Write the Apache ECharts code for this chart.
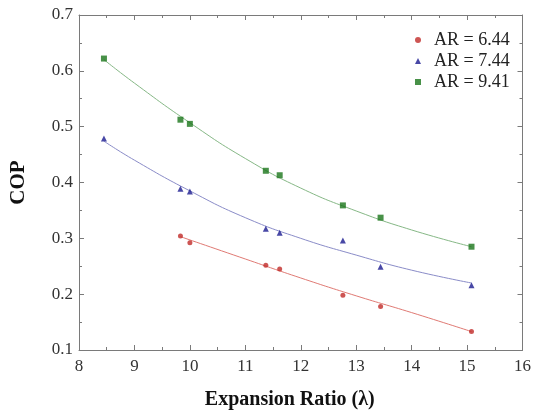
<!DOCTYPE html>
<html>
<head>
<meta charset="utf-8">
<script src="https://cdn.jsdelivr.net/npm/echarts@6/dist/echarts.min.js"></script>
<style>
html,body{margin:0;padding:0;background:#fff;}
#c{width:534px;height:415px;}
</style>
</head>
<body>
<div id="c"></div>
<script>
// Measured points
const seriesNames = ['AR = 6.44', 'AR = 7.44', 'AR = 9.41'];
const xRed = [9.83, 10.0, 11.37, 11.62, 12.76, 13.44, 15.08];
const copRed = [0.304, 0.292, 0.252, 0.245, 0.198, 0.178, 0.133];
const xBlue = [8.45, 9.83, 10.0, 11.37, 11.62, 12.76, 13.44, 15.08];
const copBlue = [0.479, 0.389, 0.384, 0.317, 0.310, 0.296, 0.249, 0.216];
const xGreen = [8.45, 9.83, 10.0, 11.37, 11.62, 12.76, 13.44, 15.08];
const copGreen = [0.622, 0.5125, 0.505, 0.421, 0.413, 0.359, 0.337, 0.285];
// Fit curves
const fitXRed = [9.83, 11, 12, 13, 14, 15.08];
const fitRed = [0.303, 0.263, 0.229, 0.197, 0.167, 0.133];
const fitXBlue = [8.45, 9, 10, 11, 12, 13, 14, 15.08];
const fitBlue = [0.474, 0.440, 0.385, 0.337, 0.300, 0.270, 0.243, 0.220];
const fitXGreen = [8.45, 9, 10, 11, 12, 13, 14, 15.08];
const fitGreen = [0.620, 0.578, 0.507, 0.443, 0.390, 0.349, 0.315, 0.285];

const zip = (xs, ys) => xs.map((x, i) => [x, ys[i]]);
const font = "'Liberation Serif', 'Times New Roman', serif";
const axisColor = '#7a7a7a';

const chart = echarts.init(document.getElementById('c'), null, {renderer: 'canvas'});

function baseX(show) {
  return {
    type: 'value', min: 8, max: 16, interval: 1,
    axisLine: {show: true, onZero: false, lineStyle: {color: axisColor, width: 1}},
    axisTick: {show: true, inside: true, length: 5, lineStyle: {color: axisColor}},
    minorTick: {show: true, splitNumber: 2, length: 3, lineStyle: {color: axisColor}},
    splitLine: {show: false},
    axisLabel: {show: show, color: '#333', fontFamily: font, fontSize: 17, margin: 8}
  };
}
function baseY(show) {
  return {
    type: 'value', min: 0.1, max: 0.7, interval: 0.1,
    axisLine: {show: true, onZero: false, lineStyle: {color: axisColor, width: 1}},
    axisTick: {show: true, inside: true, length: 5, lineStyle: {color: axisColor}},
    minorTick: {show: true, splitNumber: 2, length: 3, lineStyle: {color: axisColor}},
    splitLine: {show: false},
    axisLabel: {show: show, color: '#333', fontFamily: font, fontSize: 17, margin: 6,
      formatter: v => v.toFixed(1)}
  };
}

const xMain = Object.assign(baseX(true), {
  position: 'bottom',
  name: 'Expansion Ratio (\u03bb)', nameLocation: 'middle', nameGap: 40,
  nameTextStyle: {fontFamily: font, fontSize: 20, fontWeight: 'bold', color: '#111', padding: [0, 22, 0, 0]}
});
const xTop = Object.assign(baseX(false), {position: 'top'});
const yMain = Object.assign(baseY(true), {
  position: 'left',
  name: 'COP', nameLocation: 'middle', nameGap: 50, nameRotate: 90,
  nameTextStyle: {fontFamily: font, fontSize: 21, fontWeight: 'bold', color: '#111'}
});
const yRight = Object.assign(baseY(false), {position: 'right'});

chart.setOption({
  animation: false,
  backgroundColor: '#fff',
  grid: {left: 72, right: 8, top: 15, bottom: 64, containLabel: false},
  xAxis: [xMain, xTop],
  yAxis: [yMain, yRight],
  legend: {
    show: true, orient: 'vertical', left: 410, top: 25,
    itemWidth: 6, itemHeight: 6, itemGap: 1,
    data: seriesNames,
    textStyle: {fontFamily: font, fontSize: 18, lineHeight: 20, color: '#222', padding: [0, 0, 0, 8]}
  },
  series: [
    {type: 'line', name: 'fit1', data: zip(fitXRed, fitRed), smooth: true, showSymbol: false,
     lineStyle: {color: '#e07a74', width: 1}, z: 1, silent: true},
    {type: 'line', name: 'fit2', data: zip(fitXBlue, fitBlue), smooth: true, showSymbol: false,
     lineStyle: {color: '#8a8cc8', width: 1}, z: 1, silent: true},
    {type: 'line', name: 'fit3', data: zip(fitXGreen, fitGreen), smooth: true, showSymbol: false,
     lineStyle: {color: '#86b886', width: 1}, z: 1, silent: true},
    {type: 'scatter', name: seriesNames[0], data: zip(xRed, copRed), symbol: 'circle', symbolSize: 5,
     itemStyle: {color: '#c02a28'}, z: 3},
    {type: 'scatter', name: seriesNames[1], data: zip(xBlue, copBlue), symbol: 'triangle', symbolSize: 6,
     itemStyle: {color: '#1a1a90'}, z: 3},
    {type: 'scatter', name: seriesNames[2], data: zip(xGreen, copGreen), symbol: 'rect', symbolSize: 6,
     itemStyle: {color: '#1a761a'}, z: 3}
  ]
});
</script>
</body>
</html>
